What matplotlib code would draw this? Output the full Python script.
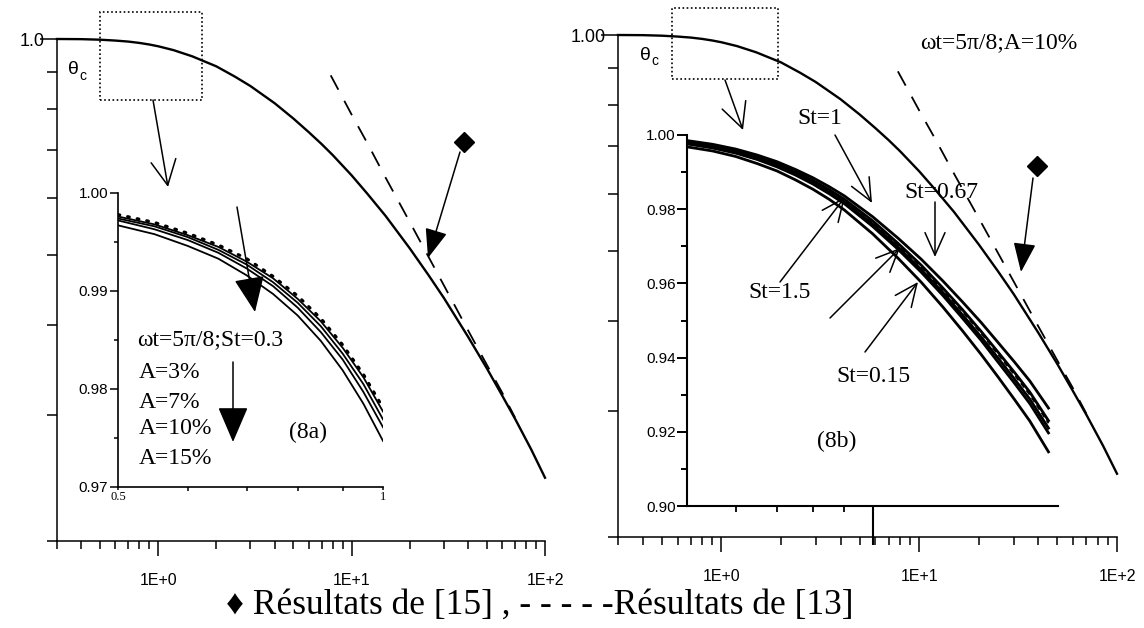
import matplotlib
matplotlib.use("Agg")
import matplotlib.pyplot as plt
from matplotlib.patches import Rectangle, FancyArrowPatch
from matplotlib.transforms import Affine2D
from matplotlib.ticker import NullLocator, NullFormatter

W, H = 1144, 628
SERIF = ['Liberation Serif', 'DejaVu Serif']
SANS = ['Liberation Sans', 'DejaVu Sans']

# main curve theta_c(x) (same in both panels), log-log
main_x = [0.3, 0.4, 0.5, 0.6, 0.7, 0.8, 0.9, 1, 1.2, 1.5, 2, 2.5, 3, 4, 5, 6, 7, 8,
          10, 12, 15, 20, 25, 30, 40, 50, 60, 70, 85, 100]
main_theta = [1.0, 0.9995, 0.9978, 0.9950, 0.9918, 0.9875, 0.9825, 0.977, 0.965,
              0.946, 0.916, 0.886, 0.860, 0.814, 0.775, 0.742, 0.714, 0.689,
              0.646, 0.610, 0.567, 0.511, 0.469, 0.436, 0.385, 0.348, 0.319,
              0.296, 0.268, 0.245]

# "Résultats de [13]" dashed curve
ref13_x = [7.8, 9, 10, 12, 15, 20, 30, 40, 50, 60, 70]
ref13_theta = [0.89, 0.828, 0.785, 0.718, 0.641, 0.556, 0.454, 0.393, 0.352, 0.322, 0.297]

# "Résultats de [15]" diamonds (one per panel)
ref15_a = (38, 0.719)
ref15_b = (39.2, 0.657)

# inset (8a): wt=5pi/8, St=0.3, A = 3, 7, 10, 15 %
ins_a_x = [0.5, 0.55, 0.6, 0.65, 0.7, 0.75, 0.8, 0.85, 0.9, 0.95, 1.0]
ins_a_dotted = [0.9978, 0.9970, 0.9959, 0.9947, 0.9933, 0.9915, 0.9895, 0.9872, 0.9845, 0.9815, 0.9781]
ins_a_A3 = [0.9976, 0.9968, 0.9957, 0.9945, 0.9930, 0.9913, 0.9892, 0.9869, 0.9842, 0.9812, 0.9777]
ins_a_A7 = [0.9974, 0.9966, 0.9955, 0.9942, 0.9927, 0.9909, 0.9888, 0.9864, 0.9836, 0.9805, 0.9769]
ins_a_A10 = [0.9972, 0.9963, 0.9952, 0.9939, 0.9923, 0.9905, 0.9883, 0.9858, 0.9830, 0.9797, 0.9761]
ins_a_A15 = [0.9967, 0.9958, 0.9946, 0.9933, 0.9916, 0.9897, 0.9875, 0.9849, 0.9819, 0.9785, 0.9747]

# inset (8b): wt=5pi/8, A=10 %, several St
ins_b_x = [0.5, 0.55, 0.6, 0.65, 0.7, 0.75, 0.8, 0.85, 0.9, 1.0, 1.1, 1.2, 1.3,
           1.4, 1.5, 1.6, 1.7, 1.8, 1.93]
ins_b_St067 = [0.9985, 0.9975, 0.9962, 0.9946, 0.9928, 0.9907, 0.9885, 0.9861, 0.9836, 0.9780,
               0.9722, 0.9665, 0.9607, 0.9550, 0.9495, 0.9440, 0.9388, 0.9337, 0.9264]
ins_b_St1 = [0.9982, 0.9972, 0.9958, 0.9942, 0.9923, 0.9901, 0.9878, 0.9853, 0.9827, 0.9769,
             0.9708, 0.9649, 0.9588, 0.9529, 0.9471, 0.9414, 0.9360, 0.9307, 0.9230]
ins_b_dashed = [0.9980, 0.9970, 0.9956, 0.9939, 0.9920, 0.9898, 0.9875, 0.9850, 0.9824, 0.9765,
                0.9704, 0.9644, 0.9583, 0.9524, 0.9466, 0.9408, 0.9353, 0.9300, 0.9223]
ins_b_St15 = [0.9978, 0.9967, 0.9953, 0.9936, 0.9917, 0.9895, 0.9872, 0.9846, 0.9819, 0.9760,
              0.9698, 0.9637, 0.9576, 0.9515, 0.9456, 0.9398, 0.9342, 0.9288, 0.9210]
ins_b_St03 = [0.9976, 0.9965, 0.9951, 0.9934, 0.9914, 0.9892, 0.9868, 0.9842, 0.9815, 0.9754,
              0.9692, 0.9630, 0.9568, 0.9506, 0.9447, 0.9387, 0.9331, 0.9276, 0.9197]
ins_b_St015 = [0.9968, 0.9957, 0.9942, 0.9923, 0.9903, 0.9879, 0.9854, 0.9827, 0.9798, 0.9734,
               0.9668, 0.9603, 0.9537, 0.9472, 0.9409, 0.9347, 0.9287, 0.9229, 0.9146]

main_yticks = [0.2, 0.3, 0.4, 0.5, 0.6, 0.7, 0.8, 0.9, 1.0]

fig = plt.figure(figsize=(W / 100, H / 100), dpi=100)
# pixel coordinates measured from the top-left corner of the image
pix = Affine2D().scale(1 / W, -1 / H).translate(0, 1) + fig.transFigure


def rect(x0, y0, x1, y1):
    return [x0 / W, 1 - y1 / H, (x1 - x0) / W, (y1 - y0) / H]


def style_axes(ax, lw=1.1):
    for s in ['top', 'right']:
        ax.spines[s].set_visible(False)
    for s in ['left', 'bottom']:
        ax.spines[s].set_linewidth(lw)
    ax.set_facecolor('none')


def main_panel(box, top_label):
    ax = fig.add_axes(rect(*box))
    style_axes(ax)
    ax.set_xscale('log')
    ax.set_yscale('log')
    ax.set_xlim(0.3, 100)
    ax.set_ylim(0.2, 1.0)
    ax.set_xticks([1, 10, 100])
    ax.set_xticklabels(['1E+0', '1E+1', '1E+2'], fontsize=11.5, family=SANS)
    ax.set_xticks([0.3, 0.4, 0.5, 0.6, 0.7, 0.8, 0.9] + list(range(2, 10)) +
                  list(range(20, 100, 10)), minor=True)
    ax.xaxis.set_minor_formatter(NullFormatter())
    ax.set_yticks(main_yticks)
    ax.set_yticklabels([''] * (len(main_yticks) - 1) + [top_label], fontsize=13, family=SANS)
    ax.yaxis.set_minor_locator(NullLocator())
    ax.tick_params(axis='x', which='major', length=11, width=1.1, pad=12)
    ax.tick_params(axis='x', which='minor', length=6, width=1.1)
    ax.tick_params(axis='y', which='major', length=7, width=1.1, pad=2)
    ax.yaxis.get_major_ticks()[-1].tick1line.set_markersize(12)
    ax.plot(main_x, main_theta, color='black', lw=1.7, clip_on=False)
    ax.plot(ref13_x, ref13_theta, color='black', lw=1.3, dashes=(9, 7))
    return ax


axA = main_panel((57, 39, 545, 541), '1.0')
axB = main_panel((618, 35, 1117, 537), '1.00')

axA.plot(*ref15_a, marker='D', ms=10, color='black')
axB.plot(*ref15_b, marker='D', ms=10, color='black')

# inset (8a)
ia = fig.add_axes(rect(118, 193, 383, 487))
style_axes(ia, lw=1.2)
ia.set_xscale('log')
ia.set_xlim(0.5, 1.0)
ia.set_ylim(0.97, 1.0)
ia.set_xticks([0.5, 1.0])
ia.set_xticklabels(['0.5', '1'], fontsize=9, family=SERIF)
ia.set_xticks([0.6, 0.7, 0.8, 0.9], minor=True)
ia.xaxis.set_minor_formatter(NullFormatter())
ia.set_yticks([0.97, 0.98, 0.99, 1.00])
ia.set_yticklabels(['0.97', '0.98', '0.99', '1.00'], fontsize=11, family=SANS)
ia.set_yticks([0.975, 0.985, 0.995], minor=True)
ia.tick_params(axis='x', which='major', length=2, width=1.1, pad=1)
ia.tick_params(axis='x', which='minor', length=3, width=1.1)
ia.tick_params(axis='y', which='major', length=6, width=1.1, pad=1)
ia.tick_params(axis='y', which='minor', length=3, width=1.1)
ia.plot(ins_a_x, ins_a_dotted, color='black', lw=2.2, linestyle=(0, (0.6, 2.6)),
        dash_capstyle='round')
for ys in [ins_a_A3, ins_a_A7, ins_a_A10, ins_a_A15]:
    ia.plot(ins_a_x, ys, color='black', lw=1.3)

# inset (8b)
ib = fig.add_axes(rect(687, 135, 1058, 506))
style_axes(ib, lw=1.5)
ib.set_xscale('log')
ib.set_xlim(0.5, 2.0)
ib.set_ylim(0.90, 1.0)
ib.set_xticks([1.0])
ib.set_xticklabels([''])
ib.set_xticks([0.6, 0.7, 0.8, 0.9], minor=True)
ib.xaxis.set_minor_formatter(NullFormatter())
ib.set_yticks([0.90, 0.92, 0.94, 0.96, 0.98, 1.00])
ib.set_yticklabels(['0.90', '0.92', '0.94', '0.96', '0.98', '1.00'], fontsize=11, family=SANS)
ib.set_yticks([0.91, 0.93, 0.95, 0.97, 0.99], minor=True)
ib.tick_params(axis='x', which='major', length=28, width=1.5)
ib.tick_params(axis='x', which='minor', length=4, width=1.3)
ib.tick_params(axis='y', which='major', length=7, width=1.4, pad=1)
ib.tick_params(axis='y', which='minor', length=4, width=1.4)
for ys in [ins_b_St067, ins_b_St1, ins_b_St15, ins_b_St03, ins_b_St015]:
    ib.plot(ins_b_x, ys, color='black', lw=2.0)
ib.plot(ins_b_x, ins_b_dashed, color='black', lw=1.3, dashes=(3, 2))

# zoom boxes
for x0, y0, x1, y1 in [(100, 12, 202, 100), (672, 8, 778, 79)]:
    fig.add_artist(Rectangle((x0, y1), x1 - x0, y0 - y1, transform=pix, fill=False,
                             lw=1.2, linestyle=(0, (1, 1.5)), color='black'))


def arrow(p0, p1, filled=False, scale=18, lw=1.1, hl=0.9, hw=0.45):
    style = ('-|>' if filled else '->') + f',head_length={hl},head_width={hw}'
    fig.add_artist(FancyArrowPatch(p0, p1, transform=pix, arrowstyle=style,
                                   mutation_scale=scale, lw=lw, color='black',
                                   shrinkA=0, shrinkB=0))


arrow((153, 100), (168, 187), hl=1.0, hw=0.5)
arrow((725, 80), (743, 130), hl=1.0, hw=0.5)
# diamonds -> curves
arrow((460, 152), (428, 258), filled=True, scale=14, hl=1.3, hw=0.5)
arrow((1033, 178), (1021, 272), filled=True, scale=14, hl=1.3, hw=0.5)
# inset (8a) arrows
arrow((237, 207), (255, 312), filled=True, scale=16, hl=1.4, hw=0.6)
arrow((233, 362), (233, 442), filled=True, scale=16, hl=1.4, hw=0.6)
# inset (8b) St arrows
arrow((835, 135), (872, 203), hl=0.9, hw=0.4)
arrow((935, 202), (935, 257), hl=0.9, hw=0.4)
arrow((780, 282), (845, 197), hl=0.9, hw=0.4)
arrow((830, 318), (900, 248), hl=0.9, hw=0.4)
arrow((865, 352), (918, 282), hl=0.9, hw=0.4)


def ptext(x, y, s, size=17, family=SERIF, ha='left', va='center'):
    fig.text(x, y, s, transform=pix, fontsize=size, family=family, ha=ha, va=va)


ptext(68, 70, 'θ', size=14, family=SANS)
ptext(79, 76, 'c', size=10, family=SANS)
ptext(640, 55, 'θ', size=14, family=SANS)
ptext(651, 61, 'c', size=10, family=SANS)

ptext(137, 340, 'ωt=5π/8;St=0.3')
ptext(139, 372, 'A=3%')
ptext(139, 402, 'A=7%')
ptext(139, 429, 'A=10%')
ptext(139, 458, 'A=15%')
ptext(308, 432, '(8a)', ha='center')

ptext(920, 43, 'ωt=5π/8;A=10%')
ptext(820, 118, 'St=1', ha='center')
ptext(941, 192, 'St=0.67', ha='center')
ptext(780, 292, 'St=1.5', ha='center')
ptext(873, 377, 'St=0.15', ha='center')
ptext(837, 441, '(8b)', ha='center')

ptext(540, 605, '♦ Résultats de [15] , - - - - -Résultats de [13]', size=25.5, ha='center')

fig.savefig('out.png', dpi=100)
